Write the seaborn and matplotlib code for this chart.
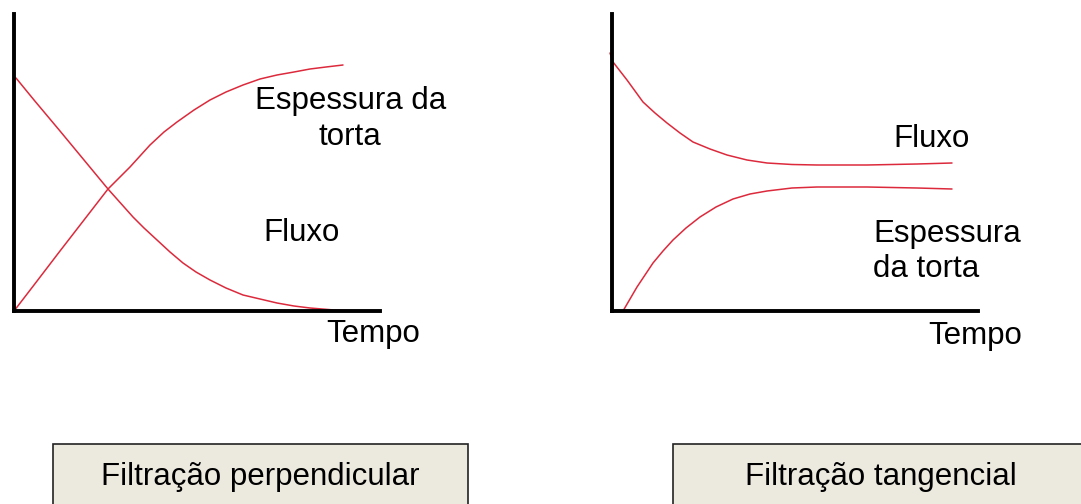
import pandas as pd
import seaborn as sns
import matplotlib.pyplot as plt
from matplotlib.patches import Rectangle

RED = "#DC2A3C"
BOX = "#ECE9DF"
W, H = 1081, 504

# left panel: perpendicular filtration (time vs value, arbitrary units)
perp_fluxo_t = [2, 20, 46, 70, 94, 119, 130, 143, 156, 169, 182, 196, 212, 229, 246, 263, 280, 296, 320, 343]
perp_fluxo_v = [233, 211, 180, 151, 122, 94, 83, 71, 59, 48, 39, 31, 23, 16, 12, 8, 5, 3, 1, 0]
perp_torta_t = [0, 20, 46, 70, 94, 116, 136, 150, 163, 180, 196, 212, 229, 246, 263, 280, 296, 312, 329]
perp_torta_v = [0, 26, 60, 91, 122, 144, 166, 179, 189, 201, 211, 219, 226, 232, 236, 239, 242, 244, 246]

# right panel: tangential filtration
tang_fluxo_t = [-2, 1, 8, 15, 23, 31, 43, 55, 68, 81, 98, 115, 135, 155, 180, 205, 255, 305, 340]
tang_fluxo_v = [258, 249, 240, 231, 220, 209, 198, 188, 178, 169, 162, 156, 151, 148, 146.5, 146, 146, 147, 148]
tang_torta_t = [11, 18, 25, 33, 41, 51, 61, 74, 88, 104, 121, 138, 155, 180, 205, 255, 305, 340]
tang_torta_v = [0, 12, 24, 36, 48, 60, 71, 83, 94, 104, 112, 117, 120, 123, 124, 124, 123, 122]


def px_axes(fig, x0, y0, w, h):
    # x0, y0 = origin in image pixels (top-left based)
    return fig.add_axes([x0 / W, 1 - y0 / H, w / W, h / H])


def panel(ax, curves):
    for t, v in curves:
        df = pd.DataFrame({"Tempo": t, "Valor": v})
        sns.lineplot(data=df, x="Tempo", y="Valor", sort=False, color=RED,
                     linewidth=1.1, ax=ax, clip_on=False)
    ax.set_xlim(0, 366)
    ax.set_ylim(0, 297)
    ax.set_xticks([])
    ax.set_yticks([])
    ax.set_xlabel("")
    ax.set_ylabel("")
    for s in ["top", "right"]:
        ax.spines[s].set_visible(False)
    for s in ["left", "bottom"]:
        ax.spines[s].set_color("black")
        ax.spines[s].set_linewidth(2.8)
    ax.patch.set_alpha(0)


def label(fig, x, y, s, ha="center"):
    fig.text(x / W, 1 - y / H, s, ha=ha, va="baseline", fontsize=22.5, color="black")


sns.set_style("white")
plt.rcParams["font.family"] = ["Liberation Sans", "DejaVu Sans"]

fig = plt.figure(figsize=(W / 100, H / 100), dpi=100)

ax1 = px_axes(fig, 14, 311, 366, 297)
panel(ax1, [(perp_fluxo_t, perp_fluxo_v), (perp_torta_t, perp_torta_v)])
ax2 = px_axes(fig, 612, 311, 366, 297)
panel(ax2, [(tang_fluxo_t, tang_fluxo_v), (tang_torta_t, tang_torta_v)])

label(fig, 351, 109, "Espessura da")
label(fig, 350, 145, "torta")
label(fig, 302, 241, "Fluxo")
label(fig, 373, 342, "Tempo")

label(fig, 932, 147, "Fluxo")
label(fig, 873, 242, "Espessura", ha="left")
label(fig, 873, 277, "da torta", ha="left")
label(fig, 975, 344, "Tempo")

for x0, x1 in [(53, 468), (673, 1089)]:
    fig.patches.append(Rectangle((x0 / W, -0.1), (x1 - x0) / W, 0.1 + (H - 444) / H,
                                 transform=fig.transFigure, facecolor=BOX,
                                 edgecolor="#222222", linewidth=1.2, clip_on=False))

label(fig, 260, 485, "Filtração perpendicular")
label(fig, 881, 485, "Filtração tangencial")

fig.savefig("out.png", dpi=100)
